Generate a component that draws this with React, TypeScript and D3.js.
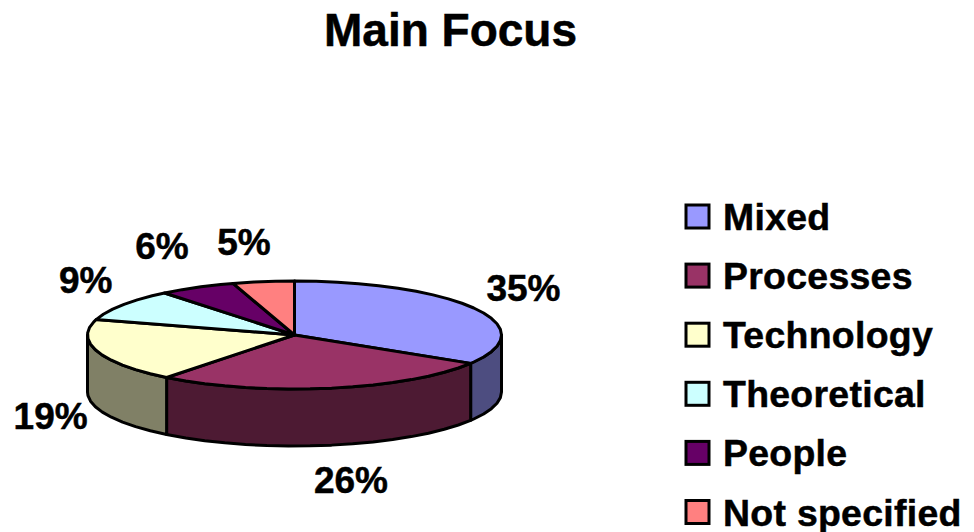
import * as d3 from 'd3';

const categories = ['Mixed', 'Processes', 'Technology', 'Theoretical', 'People', 'Not specified'];
// printed percentages, as in the picture
const percentLabels = ['35%', '26%', '19%', '9%', '6%', '5%'];
// slice sizes as drawn: the 3D projection in the picture skews them a little from the printed numbers
const shares = [33.8, 26.8, 19, 9.6, 6.0, 4.8];
const topColors = ['#9999FF', '#993366', '#FFFFCC', '#CCFFFF', '#660066', '#FF8080'];
const wallColors = ['#4D4D80', '#4D1A33', '#808066', '#668080', '#330033', '#804040'];

const WIDTH = 974;
const HEIGHT = 532;
const cx = 294.5;
const cy = 335;
const rx = 207;
const ry = 54;
const depth = 57;
const step = Math.PI / 30; // the outline is a coarse polygon, not a true ellipse

// Nudges from the label ellipse to where the labels actually sit
const labelNudge: [number, number][] = [[22, -6], [15, 6], [-18, -1], [-12, -8], [-21, -14], [-15, -9]];

const slices = d3.pie<number>().sort(null)(shares);
const px = (a: number, k = rx) => cx + k * Math.sin(a);
const py = (a: number, k = ry) => cy - k * Math.cos(a);
const line = d3.line();

function arcPoints(a0: number, a1: number): [number, number][] {
  const pts: number[] = d3.range(a0, a1, step);
  return [...pts, a1].map((a) => [px(a), py(a)] as [number, number]);
}

const legendY = d3.scalePoint<string>().domain(categories).range([216.5, 512]);

const heavy = { stroke: '#000', strokeWidth: 0.5 };

export default function App() {
  // only the front half of the ellipse has a visible wall
  const walls = slices
    .map((s, i) => ({ i, a0: Math.max(s.startAngle, Math.PI / 2), a1: Math.min(s.endAngle, (3 * Math.PI) / 2) }))
    .filter((w) => w.a1 > w.a0);

  return (
    <svg
      width={WIDTH}
      height={HEIGHT}
      style={{ position: 'absolute', left: 0, top: 0, fontFamily: '"Liberation Sans", Arial, sans-serif', fontWeight: 700 }}
    >
      <rect width={WIDTH} height={HEIGHT} fill="#fff" />
      <text x={450.5} y={46} textAnchor="middle" fontSize={46} {...heavy}>Main Focus</text>

      {walls.map((w) => {
        const top = arcPoints(w.a0, w.a1);
        const bottom = top.map(([x, y]) => [x, y + depth] as [number, number]).reverse();
        return (
          <path
            key={w.i}
            d={`${line([...top, ...bottom])}Z`}
            fill={wallColors[w.i]}
            stroke="#000"
            strokeWidth={3}
            strokeLinejoin="round"
          />
        );
      })}

      {slices.map((s, i) => (
        <path
          key={categories[i]}
          d={`${line([[cx, cy], ...arcPoints(s.startAngle, s.endAngle)])}Z`}
          fill={topColors[i]}
          stroke="#000"
          strokeWidth={3}
          strokeLinejoin="round"
        />
      ))}

      {slices.map((s, i) => {
        const mid = (s.startAngle + s.endAngle) / 2;
        const front = Math.cos(mid) < 0;
        const [nx, ny] = labelNudge[i];
        return (
          <text
            key={`label-${i}`}
            x={px(mid, rx + 30) + nx}
            y={py(mid, ry + 30) + (front ? depth : 0) + ny}
            textAnchor="middle"
            dominantBaseline="central"
            fontSize={37}
            {...heavy}
          >
            {percentLabels[i]}
          </text>
        );
      })}

      {categories.map((c, i) => {
        const y = legendY(c) ?? 0;
        return (
          <g key={`legend-${c}`} transform={`translate(0,${y})`}>
            <rect x={686} y={-11.5} width={23} height={23} fill={topColors[i]} stroke="#000" strokeWidth={3} />
            <text x={723} y={0.5} dominantBaseline="central" fontSize={37.4} letterSpacing={0.3} {...heavy}>{c}</text>
          </g>
        );
      })}
    </svg>
  );
}
